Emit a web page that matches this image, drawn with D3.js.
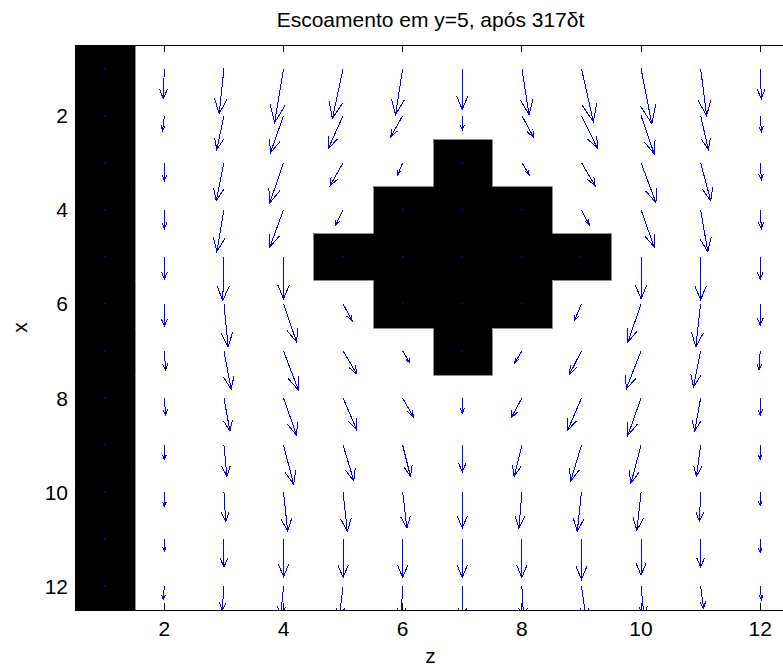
<!DOCTYPE html>
<html>
<head>
<meta charset="utf-8">
<script src="https://cdn.jsdelivr.net/npm/d3@7"></script>
<style>
  body { margin: 0; background: #fff; }
  svg { display: block; font-family: "Liberation Sans", Arial, Helvetica, sans-serif; }
</style>
</head>
<body>
<div id="chart"></div>
<script>
/*** DADOS ***/
var titulo = "Escoamento em y=5, após 317δt";
var rotuloZ = "z";
var rotuloX = "x";
var zTicks = [2, 4, 6, 8, 10, 12];
var xTicks = [2, 4, 6, 8, 10, 12];

// células sólidas (linhas x = 1..12, colunas z = 1..12)
var solido = [
  [1,0,0,0,0,0,0,0,0,0,0,0],
  [1,0,0,0,0,0,0,0,0,0,0,0],
  [1,0,0,0,0,0,1,0,0,0,0,0],
  [1,0,0,0,0,1,1,1,0,0,0,0],
  [1,0,0,0,1,1,1,1,1,0,0,0],
  [1,0,0,0,0,1,1,1,0,0,0,0],
  [1,0,0,0,0,0,1,0,0,0,0,0],
  [1,0,0,0,0,0,0,0,0,0,0,0],
  [1,0,0,0,0,0,0,0,0,0,0,0],
  [1,0,0,0,0,0,0,0,0,0,0,0],
  [1,0,0,0,0,0,0,0,0,0,0,0],
  [1,0,0,0,0,0,0,0,0,0,0,0]
];

// componente horizontal (z) das setas, já escalada
var W = [
  [0,-0.02,-0.08,-0.15,-0.18,-0.12,0, 0.12, 0.20, 0.18, 0.10, 0.02],
  [0,-0.03,-0.12,-0.22,-0.25,-0.20,0, 0.20, 0.27, 0.22, 0.13, 0.02],
  [0, 0.00,-0.13,-0.23,-0.22,-0.08,0, 0.12, 0.23, 0.25, 0.17, 0.02],
  [0, 0.00,-0.12,-0.23,-0.13, 0,   0, 0,    0.13, 0.22, 0.12, 0.02],
  [0, 0.00,-0.02, 0.00, 0,    0,   0, 0,    0,    0.00, 0.00, 0.00],
  [0, 0.00, 0.07, 0.22, 0.15, 0,   0, 0,   -0.12,-0.22,-0.08, 0.00],
  [0, 0.02, 0.12, 0.25, 0.23, 0.12,0,-0.12,-0.20,-0.25,-0.12,-0.02],
  [0, 0.02, 0.10, 0.22, 0.23, 0.18,0,-0.18,-0.23,-0.22,-0.10, 0.00],
  [0, 0.00, 0.05, 0.17, 0.18, 0.13,0,-0.13,-0.18,-0.17,-0.07, 0.00],
  [0, 0.00, 0.03, 0.07, 0.07, 0.07,0,-0.05,-0.07,-0.07,-0.02, 0.00],
  [0, 0.00, 0.00, 0.00, 0.00, 0.00,0, 0.00, 0.00, 0.00, 0.00, 0.00],
  [0,-0.02,-0.03,-0.05,-0.07,-0.03,0, 0.03, 0.08, 0.05, 0.05, 0.02]
];

// componente vertical (x) das setas, já escalada
var U = [
  [0,0.64,0.96,1.15,1.06,0.98,0.87,0.98,1.13,1.17,1.00,0.64],
  [0,0.32,0.72,0.79,0.70,0.45,0.30,0.47,0.70,0.81,0.72,0.34],
  [0,0.38,0.81,0.85,0.49,0.25,0,   0.25,0.49,0.85,0.81,0.36],
  [0,0.40,0.89,0.79,0.34,0,   0,   0,   0.32,0.79,0.89,0.40],
  [0,0.47,0.93,0.89,0,   0,   0,   0,   0,   0.89,0.91,0.47],
  [0,0.47,0.91,0.81,0.36,0,   0,   0,   0.36,0.81,0.91,0.45],
  [0,0.40,0.81,0.83,0.49,0.25,0,   0.25,0.49,0.81,0.76,0.40],
  [0,0.36,0.70,0.79,0.68,0.40,0.32,0.42,0.68,0.79,0.70,0.36],
  [0,0.30,0.66,0.83,0.76,0.66,0.57,0.66,0.76,0.81,0.66,0.30],
  [0,0.30,0.62,0.83,0.83,0.76,0.76,0.76,0.83,0.81,0.62,0.28],
  [0,0.25,0.59,0.79,0.81,0.81,0.81,0.81,0.85,0.76,0.59,0.28],
  [0,0.28,0.51,0.64,0.68,0.68,0.68,0.68,0.68,0.64,0.47,0.28]
];

/*** DESENHO ***/
var width = 783;
var height = 667;
var plot = { left: 75, top: 45, right: 790, bottom: 610 };

var scaleZ = d3.scaleLinear().domain([0.5, 12.5]).range([plot.left, plot.right]);
var scaleX = d3.scaleLinear().domain([0.5, 12.5]).range([plot.top, plot.bottom]);

var svg = d3.select('#chart').append('svg')
  .attr('width', width)
  .attr('height', height);

svg.append('defs').append('clipPath').attr('id', 'area')
  .append('rect')
  .attr('x', plot.left).attr('y', plot.top)
  .attr('width', plot.right - plot.left).attr('height', plot.bottom - plot.top);

// lista de células
var celulas = [];
for (var i = 0; i < 12; i++) {
  for (var j = 0; j < 12; j++) {
    celulas.push({ x: i + 1, z: j + 1, s: solido[i][j], w: W[i][j], u: U[i][j] });
  }
}
var cheias = celulas.filter(function (c) { return c.s; });
var livres = celulas.filter(function (c) { return !c.s; });

var g = svg.append('g').attr('clip-path', 'url(#area)');

// arredondar para não ficar costura entre células
function pz(v) { return Math.round(scaleZ(v)); }
function px(v) { return Math.round(scaleX(v)); }

g.selectAll('rect.solido')
  .data(cheias)
  .enter()
  .append('rect')
  .attr('class', 'solido')
  .attr('x', function (d) { return pz(d.z - 0.5); })
  .attr('y', function (d) { return px(d.x - 0.5); })
  .attr('width', function (d) { return pz(d.z + 0.5) - pz(d.z - 0.5); })
  .attr('height', function (d) { return px(d.x + 0.5) - px(d.x - 0.5); })
  .attr('shape-rendering', 'crispEdges')
  .attr('fill', '#000');

// contorno cinzento só onde o vizinho é fluido
function eSolido(x, z) {
  if (x < 1 || x > 12 || z < 1 || z > 12) return true;
  return solido[x - 1][z - 1] === 1;
}
var bordas = [];
cheias.forEach(function (c) {
  if (!eSolido(c.x - 1, c.z)) bordas.push([c.z - 0.5, c.x - 0.5, c.z + 0.5, c.x - 0.5]);
  if (!eSolido(c.x + 1, c.z)) bordas.push([c.z - 0.5, c.x + 0.5, c.z + 0.5, c.x + 0.5]);
  if (!eSolido(c.x, c.z - 1)) bordas.push([c.z - 0.5, c.x - 0.5, c.z - 0.5, c.x + 0.5]);
  if (!eSolido(c.x, c.z + 1)) bordas.push([c.z + 0.5, c.x - 0.5, c.z + 0.5, c.x + 0.5]);
});
g.selectAll('line.borda')
  .data(bordas)
  .enter()
  .append('line')
  .attr('class', 'borda')
  .attr('x1', function (d) { return pz(d[0]) + 0.5; })
  .attr('y1', function (d) { return px(d[1]) + 0.5; })
  .attr('x2', function (d) { return pz(d[2]) + 0.5; })
  .attr('y2', function (d) { return px(d[3]) + 0.5; })
  .attr('stroke', '#8c8c8c')
  .attr('stroke-width', 1);

// setas tipo quiver do matlab (alpha = beta = 0.33)
var alpha = 0.33, beta = 0.33;
function seta(d) {
  var z1 = d.z + d.w, x1 = d.x + d.u;
  var hz1 = z1 - alpha * (d.w + beta * d.u), hx1 = x1 - alpha * (d.u - beta * d.w);
  var hz2 = z1 - alpha * (d.w - beta * d.u), hx2 = x1 - alpha * (d.u + beta * d.w);
  return 'M' + scaleZ(d.z) + ',' + scaleX(d.x) +
    'L' + scaleZ(z1) + ',' + scaleX(x1) +
    'M' + scaleZ(hz1) + ',' + scaleX(hx1) +
    'L' + scaleZ(z1) + ',' + scaleX(x1) +
    'L' + scaleZ(hz2) + ',' + scaleX(hx2);
}
g.selectAll('path.seta')
  .data(livres)
  .enter()
  .append('path')
  .attr('class', 'seta')
  .attr('d', seta)
  .attr('fill', 'none')
  .attr('stroke', '#0000ff')
  .attr('stroke-width', 1)
  .attr('shape-rendering', 'crispEdges');

g.selectAll('rect.ponto')
  .data(cheias)
  .enter()
  .append('rect')
  .attr('class', 'ponto')
  .attr('x', function (d) { return pz(d.z) - 1; })
  .attr('y', function (d) { return px(d.x) - 1; })
  .attr('width', 1.5).attr('height', 1.5)
  .attr('fill', '#0000ff');

// eixos (caixa + ticks para dentro)
var eixos = svg.append('g')
  .attr('stroke', '#000')
  .attr('shape-rendering', 'crispEdges');
eixos.append('rect')
  .attr('x', plot.left).attr('y', plot.top)
  .attr('width', plot.right - plot.left).attr('height', plot.bottom - plot.top)
  .attr('fill', 'none');
var tam = 7;
eixos.selectAll('line.tb').data(zTicks).enter().append('line')
  .attr('x1', function (d) { return scaleZ(d); }).attr('x2', function (d) { return scaleZ(d); })
  .attr('y1', plot.bottom).attr('y2', plot.bottom - tam);
eixos.selectAll('line.tt').data(zTicks).enter().append('line')
  .attr('x1', function (d) { return scaleZ(d); }).attr('x2', function (d) { return scaleZ(d); })
  .attr('y1', plot.top).attr('y2', plot.top + tam);
eixos.selectAll('line.tl').data(xTicks).enter().append('line')
  .attr('y1', function (d) { return scaleX(d); }).attr('y2', function (d) { return scaleX(d); })
  .attr('x1', plot.left).attr('x2', plot.left + tam);
eixos.selectAll('line.tr').data(xTicks).enter().append('line')
  .attr('y1', function (d) { return scaleX(d); }).attr('y2', function (d) { return scaleX(d); })
  .attr('x1', plot.right).attr('x2', plot.right - tam);

// textos
var fs = 21;
svg.selectAll('text.tz').data(zTicks).enter().append('text')
  .attr('x', function (d) { return scaleZ(d); })
  .attr('y', 636)
  .attr('text-anchor', 'middle')
  .attr('font-size', fs)
  .attr('fill', '#000')
  .text(function (d) { return d; });
svg.selectAll('text.tx').data(xTicks).enter().append('text')
  .attr('x', 68)
  .attr('y', function (d) { return scaleX(d) + 7.5; })
  .attr('text-anchor', 'end')
  .attr('font-size', fs)
  .attr('fill', '#000')
  .text(function (d) { return d; });

svg.append('text')
  .attr('x', (plot.left + plot.right) / 2 - 2)
  .attr('y', 27)
  .attr('text-anchor', 'middle')
  .attr('font-size', fs)
  .attr('fill', '#000')
  .text(titulo);

svg.append('text')
  .attr('x', (plot.left + plot.right) / 2 - 2)
  .attr('y', 663)
  .attr('text-anchor', 'middle')
  .attr('font-size', fs)
  .attr('fill', '#000')
  .text(rotuloZ);

svg.append('text')
  .attr('transform', 'translate(27,' + ((plot.top + plot.bottom) / 2) + ') rotate(-90)')
  .attr('text-anchor', 'middle')
  .attr('font-size', fs)
  .attr('fill', '#000')
  .text(rotuloX);
</script>
</body>
</html>
